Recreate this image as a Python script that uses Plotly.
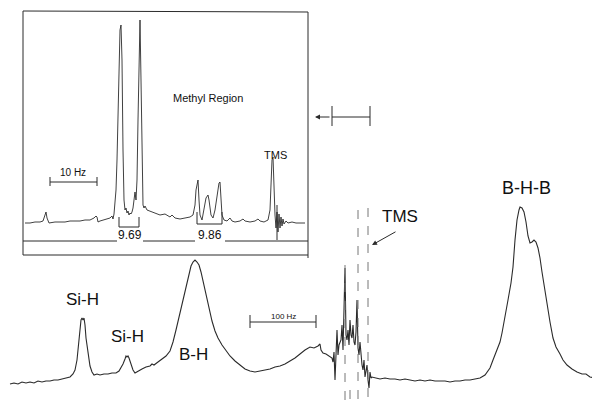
import plotly.graph_objects as go

# ---- main 1H spectrum (position across chart, intensity above page bottom) ----
main_shift = [10, 14, 18, 22, 26, 30, 34, 38, 42, 46, 50, 54, 58, 62, 66, 70, 73, 75, 77, 79, 80, 81, 82, 83, 84, 85, 86, 88, 90, 92, 94, 97, 100, 104, 108, 112, 116, 119, 121, 123, 125, 126, 127, 128, 129, 131, 133, 135, 138, 142, 146, 150, 152, 154, 158, 162, 166, 170, 173, 176, 179, 182, 185, 188, 191, 193, 195, 197, 199, 201, 203, 206, 209, 212, 215, 218, 222, 226, 230, 235, 240, 245, 250, 255, 260, 265, 270, 275, 280, 285, 290, 295, 300, 305, 310, 314, 318, 320, 321, 323, 326, 329, 332, 333, 334, 335, 336, 337, 338, 339, 341, 342, 343, 344, 345, 346, 347, 348, 349, 350, 351, 352, 353, 354, 355, 356, 357, 358, 359, 360, 361, 362, 363, 364, 365, 366, 367, 368, 369, 370, 371, 372, 376, 380, 385, 390, 395, 400, 405, 410, 415, 420, 425, 430, 435, 440, 445, 450, 455, 460, 465, 470, 475, 480, 485, 490, 493, 497, 500, 502, 505, 508, 511, 513, 515, 517, 519, 520, 522, 524, 526, 528, 530, 532, 534, 536, 538, 540, 542, 545, 547, 550, 553, 556, 560, 563, 567, 572, 577, 582, 586, 590, 595, 600]
main_intensity = [22, 23, 22, 24, 23, 24, 23, 25, 24, 25, 25, 26, 26, 27, 28, 29, 32, 36, 46, 66, 78, 86, 88, 86, 88, 81, 68, 51, 40, 34, 31, 32, 31, 32, 32, 33, 33, 35, 38, 42, 47, 50, 49, 50, 48, 42, 36, 33, 35, 37, 39, 40, 42, 41, 44, 47, 50, 55, 64, 76, 89, 101, 116, 130, 140, 144, 146, 144, 141, 134, 125, 111, 96, 85, 75, 68, 61, 55, 50, 45, 41, 37, 35, 34, 35, 36, 37, 39, 40, 42, 45, 48, 52, 56, 59, 58, 60, 62, 56, 53, 52, 50, 48, 44, 54, 26, 48, 76, 51, 61, 66, 81, 56, 88, 138, 71, 66, 76, 61, 86, 71, 68, 81, 64, 61, 74, 106, 58, 51, 64, 46, 41, 36, 46, 29, 34, 41, 26, 18, 34, 28, 29, 28, 27, 28, 27, 27, 26, 27, 26, 25, 26, 25, 26, 25, 25, 25, 24, 25, 25, 26, 26, 27, 28, 31, 38, 46, 56, 64, 73, 88, 106, 123, 139, 166, 186, 196, 199, 198, 194, 184, 170, 163, 164, 166, 164, 158, 148, 134, 114, 104, 84, 68, 59, 52, 46, 41, 37, 34, 32, 32, 29, 28, 26]

# off-scale TMS pen strokes (dashed in the original)
tms_shift = [345, 345, None, 358, 358, None, 368, 368, None, 350, 350]
tms_intensity = [141, 3, None, 196, 3, None, 198, 3, None, 16, 3]

# ---- inset: methyl region (expanded) ----
inset_shift = [25, 30, 35, 40, 43, 45, 46, 47, 49, 55, 60, 65, 70, 75, 80, 85, 90, 94, 96, 97, 98, 100, 103, 106, 108, 110, 112, 113, 114, 115, 116, 117, 118, 119, 120, 121, 122, 123, 124, 125, 126, 127, 128, 129, 130, 131, 132, 133, 134, 135, 136, 137, 138, 139, 140, 141, 142, 143, 144, 145, 147, 150, 155, 160, 165, 170, 172, 175, 180, 185, 190, 193, 195, 196, 197, 198, 199, 200, 202, 204, 206, 208, 209, 211, 213, 215, 217, 219, 220, 221, 222, 224, 227, 230, 232, 235, 240, 243, 245, 250, 255, 258, 260, 264, 268, 270, 271, 272, 273, 274, 275, 276, 277, 278, 279, 280, 281, 282, 283, 284, 286, 288, 292, 296, 300, 305]
inset_intensity = [183, 183, 184, 184, 185, 193, 194, 188, 183, 184, 184, 184, 185, 185, 185, 186, 186, 188, 190, 189, 184, 185, 186, 187, 187, 188, 190, 187, 192, 201, 216, 246, 296, 346, 376, 381, 346, 256, 206, 196, 198, 193, 195, 191, 193, 192, 194, 198, 206, 214, 206, 226, 286, 346, 386, 326, 236, 201, 198, 200, 196, 195, 193, 191, 192, 189, 191, 188, 187, 188, 189, 191, 201, 216, 224, 226, 206, 191, 186, 196, 208, 211, 206, 191, 188, 196, 211, 223, 224, 206, 191, 186, 185, 188, 185, 184, 185, 187, 185, 184, 185, 187, 185, 184, 186, 196, 216, 246, 249, 216, 191, 178, 194, 174, 192, 178, 189, 180, 187, 182, 185, 183, 184, 183, 183, 183]

INK = "#2b2b2b"
fig = go.Figure()
fig.add_trace(go.Scatter(x=main_shift, y=main_intensity, mode="lines",
                         line=dict(color=INK, width=1.1), hoverinfo="skip"))
fig.add_trace(go.Scatter(x=tms_shift, y=tms_intensity, mode="lines",
                         line=dict(color="#777777", width=1, dash="dash"), hoverinfo="skip"))
fig.add_trace(go.Scatter(x=inset_shift, y=inset_intensity, mode="lines",
                         line=dict(color=INK, width=0.9), hoverinfo="skip"))

def seg(x0, y0, x1, y1, color=INK, w=1):
    return dict(type="line", xref="x", yref="y", x0=x0, y0=y0, x1=x1, y1=y1,
                line=dict(color=color, width=w))

shapes = [
    # inset frame
    seg(23, 395, 308, 394), seg(23, 151, 23, 395), seg(308, 148, 308, 394),
    seg(23, 151, 308, 151),
    # inset axis line with label gaps
    seg(23, 165, 117, 165), seg(143, 165, 195, 165), seg(225, 165, 308, 165),
    # brackets
    seg(119, 189, 119, 179), seg(139, 189, 139, 179), seg(119, 179, 139, 179),
    seg(197, 194, 197, 182), seg(222, 194, 222, 182), seg(197, 182, 222, 182),
    # TMS marker in inset
    seg(277, 166, 277, 201),
    # 10 Hz bar
    seg(50, 224, 97, 224), seg(50, 229, 50, 220), seg(97, 229, 97, 220),
    # expansion bar near inset
    seg(332, 289, 370, 289), seg(332, 300, 332, 280), seg(370, 300, 370, 280),
    # 100 Hz bar
    seg(250, 84, 316, 84), seg(250, 91, 250, 78), seg(316, 91, 316, 78),
]

def txt(x, y, s, size):
    return dict(x=x, y=y, xref="x", yref="y", text=s, showarrow=False,
                font=dict(size=size, color="#111111", family="Liberation Sans"))

annotations = [
    txt(208, 308, "Methyl Region", 11),
    txt(275, 251, "TMS", 11),
    txt(73, 234, "10 Hz", 10),
    txt(130, 171, "9.69", 12),
    txt(210, 171, "9.86", 12),
    txt(526, 218, "B-H-B", 18),
    txt(400, 190, "TMS", 17),
    txt(82, 107, "Si-H", 17),
    txt(127, 70, "Si-H", 17),
    txt(193, 52, "B-H", 17),
    txt(283, 90, "100 Hz", 8),
    dict(x=315, y=289, ax=331, ay=289, xref="x", yref="y", axref="x", ayref="y",
         text="", showarrow=True, arrowhead=2, arrowsize=1, arrowwidth=1, arrowcolor=INK),
    dict(x=372, y=161, ax=397, ay=175, xref="x", yref="y", axref="x", ayref="y",
         text="", showarrow=True, arrowhead=2, arrowsize=1, arrowwidth=1, arrowcolor=INK),
]

# The page body keeps an 8px margin, so the figure is 592x398 and the axis
# ranges start where the page offset ends.
fig.update_layout(
    width=592, height=398, margin=dict(l=0, r=0, t=0, b=0),
    paper_bgcolor="white", plot_bgcolor="white", showlegend=False,
    xaxis=dict(range=[8, 600], visible=False, fixedrange=True),
    yaxis=dict(range=[0, 398], visible=False, fixedrange=True),
    shapes=shapes, annotations=annotations,
    font=dict(family="Liberation Sans"),
)
fig.write_html("out.html")
